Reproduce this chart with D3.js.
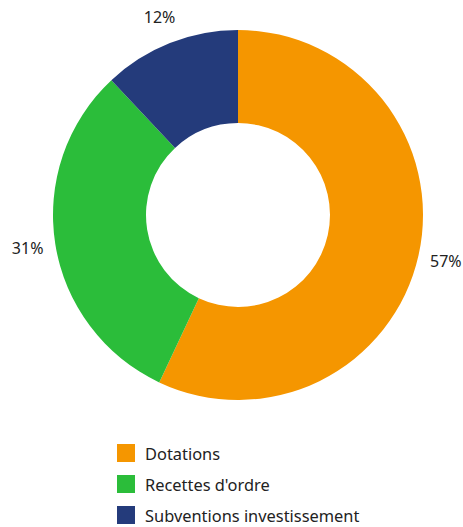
<!DOCTYPE html>
<html><head><meta charset="utf-8">
<script src="https://cdn.jsdelivr.net/npm/d3@7"></script>
<style>body{margin:0;background:#fff}svg{display:block}</style>
</head><body>
<svg id="c" width="463" height="527"></svg>
<script>
const categories = ["Dotations", "Recettes d'ordre", "Subventions investissement"];
const values = [57, 31, 12];
const labels = ["57%", "31%", "12%"];
const colors = ["#F59600", "#2BBD3A", "#243B7B"];

const svg = d3.select("#c");
const font = "'Noto Sans', sans-serif";
const cx = 238, cy = 215, R = 185, r = 92, LR = 213;
const pie = d3.pie().sort(null).value(d => d)(values);
const arc = d3.arc().innerRadius(r).outerRadius(R);
const g = svg.append("g").attr("transform", `translate(${cx},${cy})`);
g.selectAll("path").data(pie).join("path").attr("d", arc).attr("fill", (d,i) => colors[i]);
const lab = d3.arc().innerRadius(LR).outerRadius(LR);
g.selectAll("text").data(pie).join("text")
  .attr("x", d => lab.centroid(d)[0]).attr("y", d => lab.centroid(d)[1])
  .attr("text-anchor", "middle").attr("dominant-baseline", "central")
  .attr("font-family", font).attr("font-size", 16).attr("fill", "#222")
  .text((d,i) => labels[i]);

const leg = svg.append("g").attr("transform", "translate(117,444)");
categories.forEach((c, i) => {
  const row = leg.append("g").attr("transform", `translate(0,${i*31})`);
  row.append("rect").attr("width", 18).attr("height", 18).attr("fill", colors[i]);
  row.append("text").attr("x", 28).attr("y", 9).attr("dominant-baseline", "central")
    .attr("font-family", font).attr("font-size", 16.4).attr("fill", "#222").text(c);
});
</script>
</body></html>
